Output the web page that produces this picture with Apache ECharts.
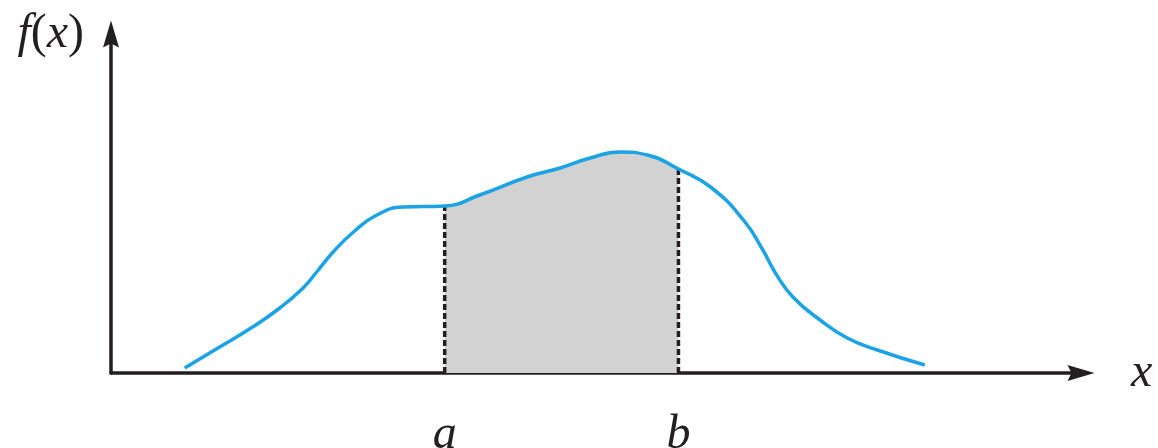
<!DOCTYPE html>
<html>
<head>
<meta charset="utf-8">
<script src="https://cdn.jsdelivr.net/npm/echarts@6/dist/echarts.min.js"></script>
<style>html,body{margin:0;padding:0;background:#fff}#c{width:1158px;height:448px}</style>
</head>
<body>
<div id="c"></div>
<script>
// Curve f(x): x positions and heights
const curveX = [0.76, 1.12, 1.46, 1.74, 1.98, 2.12, 2.29, 2.50, 2.74, 3.01, 3.44, 3.80, 4.29, 4.63, 4.94, 5.25, 5.53, 5.85, 6.18, 6.52, 6.72, 6.85, 7.03, 7.31, 7.59, 7.90, 8.39];
const curveY = [0.05, 0.26, 0.46, 0.65, 0.85, 1.01, 1.21, 1.41, 1.58, 1.66, 1.67, 1.78, 1.96, 2.05, 2.15, 2.21, 2.18, 2.04, 1.86, 1.53, 1.23, 1.00, 0.76, 0.53, 0.35, 0.23, 0.08];
// Interval bounds and their labels
const boundA = 3.44;
const boundB = 5.85;
const boundLabels = ['a', 'b'];
const xName = 'x';
const yName = 'f(x)';

const curve = curveX.map((x, i) => [x, curveY[i]]);
const shaded = curve.filter(p => p[0] >= boundA - 1e-9 && p[0] <= boundB + 1e-9);
const yAt = v => curveY[curveX.indexOf(v)];

const serif = "'Liberation Serif', 'DejaVu Serif', serif";
const ink = '#231f20';
const arrow = 'path://M8,0 L16,27 L8,23 L0,27 Z';

const chart = echarts.init(document.getElementById('c'), null, {renderer: 'canvas'});
chart.setOption({
  animation: false,
  backgroundColor: '#fff',
  grid: {left: 111, right: 77, top: 34, bottom: 75, containLabel: false, outerBoundsMode: 'none'},
  xAxis: {
    type: 'value', min: 0, max: 10,
    name: xName, nameLocation: 'end', nameGap: 50,
    nameTextStyle: {fontFamily: serif, fontStyle: 'italic', fontSize: 48, color: ink, verticalAlign: 'middle', padding: [0,0,6,0]},
    axisLine: {show: true, onZero: true, symbol: ['none', arrow], symbolSize: [16, 27], lineStyle: {color: ink, width: 3.5}},
    axisTick: {show: false},
    splitLine: {show: false},
    axisLabel: {
      show: true, customValues: [boundA, boundB], margin: 38,
      formatter: v => (Math.abs(v - boundA) < 1e-6 ? boundLabels[0] : boundLabels[1]),
      fontFamily: serif, fontStyle: 'italic', fontSize: 48, color: ink
    }
  },
  yAxis: {
    type: 'value', min: 0, max: 3.39,
    name: '{i|f}{r|(}{i|x}{r|)}', nameLocation: 'end', nameGap: 0,
    nameTextStyle: {
      align: 'right', verticalAlign: 'middle', padding: [0, 27, 0, 0],
      rich: {
        i: {fontFamily: serif, fontStyle: 'italic', fontSize: 48, color: ink},
        r: {fontFamily: serif, fontSize: 48, color: ink}
      }
    },
    axisLine: {show: true, symbol: ['none', arrow], symbolSize: [16, 27], lineStyle: {color: ink, width: 3.5}},
    axisTick: {show: false},
    axisLabel: {show: false},
    splitLine: {show: false}
  },
  series: [
    {
      type: 'line', data: shaded, smooth: 0.5, symbol: 'none', z: 1,
      lineStyle: {width: 0}, areaStyle: {color: '#d2d2d2', opacity: 1}
    },
    {
      type: 'line', data: [[boundA, 0], [boundA, yAt(boundA)]], symbol: 'none', z: 2,
      lineStyle: {color: ink, width: 3.5, type: [6, 3]}
    },
    {
      type: 'line', data: [[boundB, 0], [boundB, yAt(boundB)]], symbol: 'none', z: 2,
      lineStyle: {color: ink, width: 3.5, type: [6, 3]}
    },
    {
      type: 'line', data: curve, smooth: 0.5, symbol: 'none', z: 3,
      lineStyle: {color: '#1ba3e6', width: 3.5}
    }
  ]
});
</script>
</body>
</html>
